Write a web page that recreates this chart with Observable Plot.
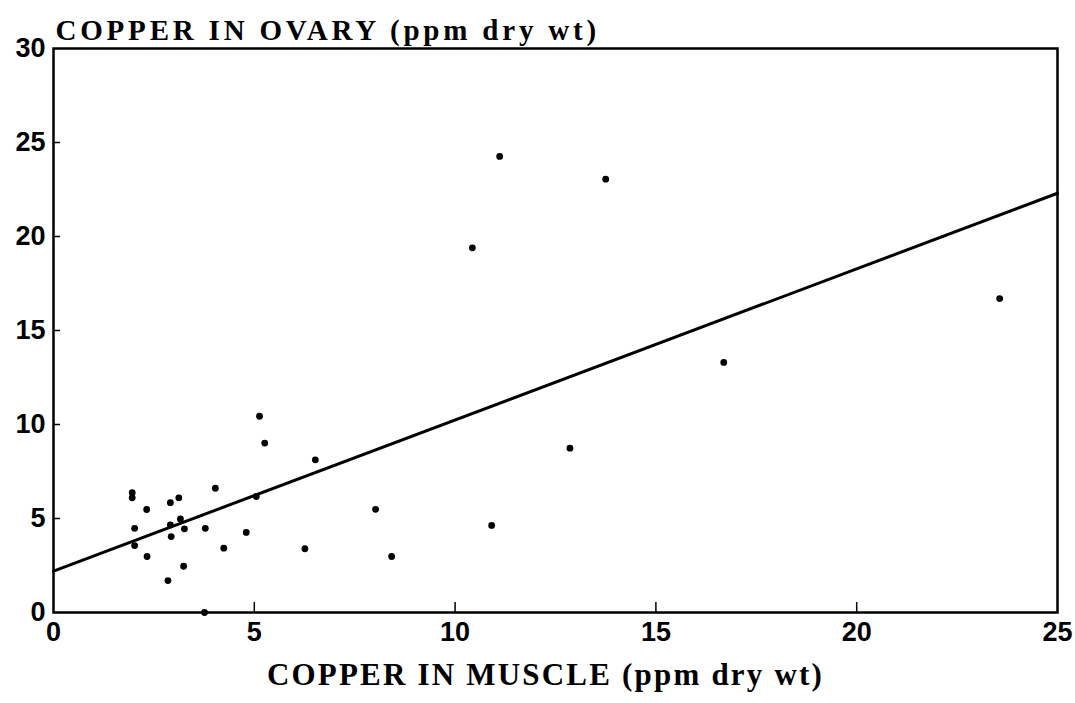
<!DOCTYPE html>
<html>
<head>
<meta charset="utf-8">
<script src="https://cdn.jsdelivr.net/npm/d3@7"></script>
<script src="https://cdn.jsdelivr.net/npm/@observablehq/plot@0.6"></script>
<style>
  html, body { margin: 0; padding: 0; background: #fff; }
  #chart svg { display: block; }
</style>
</head>
<body>
<div id="chart"></div>
<script>
// Copper in muscle (x) vs copper in ovary (y), ppm dry wt
const muscle = [1.96, 1.96, 2.32, 2.91, 3.12, 2.02, 2.02, 2.91, 3.16, 3.26, 2.93, 3.78, 4.03,
                2.33, 3.24, 2.85, 3.76, 4.80, 5.05, 5.13, 5.26, 6.52, 4.24, 6.26, 8.02, 8.42,
                10.91, 12.86, 11.11, 13.75, 10.43, 16.69, 23.56];
const ovary  = [6.37, 6.10, 5.48, 5.84, 6.10, 4.48, 3.56, 4.66, 4.98, 4.45, 4.04, 4.48, 6.61,
                2.98, 2.46, 1.70, 0.00, 4.26, 6.17, 10.44, 9.01, 8.12, 3.42, 3.39, 5.49, 2.98,
                4.63, 8.74, 24.26, 23.05, 19.40, 13.30, 16.70];

// Fitted regression line: ovary = intercept + slope * muscle
const fitIntercept = 2.2;
const fitSlope = 0.804;
const fitRange = [0, 25];

const xTicks = [0, 5, 10, 15, 20, 25];
const yTicks = [0, 5, 10, 15, 20, 25, 30];
const xInnerTicks = [5, 10, 15, 20];
const yInnerTicks = [5, 10, 15, 20, 25];

const xLabel = "COPPER IN MUSCLE (ppm dry wt)";
const yLabel = "COPPER IN OVARY (ppm dry wt)";

const points = muscle.map((m, i) => ({muscle: m, ovary: ovary[i]}));
const fit = fitRange.map(m => ({muscle: m, ovary: fitIntercept + fitSlope * m}));

const tickFont = "Liberation Sans, Arial, sans-serif";
const labelFont = "Liberation Serif, Times New Roman, serif";

const plot = Plot.plot({
  width: 1075,
  height: 703,
  marginLeft: 53,
  marginRight: 18,
  marginTop: 48,
  marginBottom: 91,
  style: {background: "#fff", color: "#000"},
  x: {domain: [0, 25], ticks: xTicks, label: null},
  y: {domain: [0, 30], ticks: yTicks, label: null},
  marks: [
    Plot.frame({stroke: "#000", strokeWidth: 2.5}),
    Plot.axisX({ticks: xTicks, tickSize: 0, tickPadding: 9, label: null,
                fontSize: 27, fontWeight: "bold", fontFamily: tickFont}),
    Plot.axisY({ticks: yTicks, tickSize: 0, tickPadding: 8, label: null,
                fontSize: 27, fontWeight: "bold", fontFamily: tickFont}),
    Plot.ruleX(xInnerTicks, {x: d => d, y1: 0, y2: 0, insetTop: -10, stroke: "#000", strokeWidth: 1.5}),
    Plot.ruleY(yInnerTicks, {y: d => d, x1: 0, x2: 0, insetRight: -7, stroke: "#000", strokeWidth: 1.5}),
    Plot.line(fit, {x: "muscle", y: "ovary", stroke: "#000", strokeWidth: 3}),
    Plot.dot(points, {x: "muscle", y: "ovary", r: 3.4, fill: "#000", stroke: "none"}),
    Plot.text([yLabel], {frameAnchor: "top-left", text: d => d, textAnchor: "start",
                         lineAnchor: "bottom", dx: 2, dy: -9,
                         fontSize: 29, fontWeight: "bold", fontFamily: labelFont}),
    Plot.text([xLabel], {frameAnchor: "bottom", text: d => d, textAnchor: "middle",
                         lineAnchor: "bottom", dx: -10, dy: 72,
                         fontSize: 31, fontWeight: "bold", fontFamily: labelFont})
  ]
});

d3.select(plot).selectAll("text")
  .filter(function() { return this.textContent === yLabel; })
  .attr("letter-spacing", "3.8px");
d3.select(plot).selectAll("text")
  .filter(function() { return this.textContent === xLabel; })
  .attr("letter-spacing", "2.2px");

document.getElementById("chart").appendChild(plot);
</script>
</body>
</html>
